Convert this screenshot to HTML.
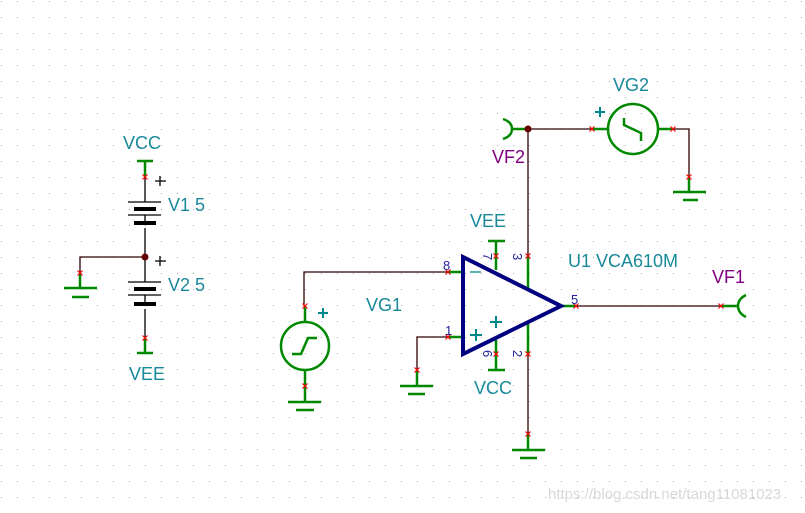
<!DOCTYPE html><html><head><style>body{margin:0;background:#fff}svg{display:block}</style></head><body>
<svg width="805" height="513" viewBox="0 0 805 513" xmlns="http://www.w3.org/2000/svg" font-family="Liberation Sans, sans-serif">
<defs><pattern id="g" x="1" y="1" width="16" height="16" patternUnits="userSpaceOnUse"><rect width="1" height="1" fill="#aaa"/></pattern>
<path id="x" d="M-2.5 -2.5L2.5 2.5M-2.5 2.5L2.5 -2.5" stroke="#f00" stroke-width="1.2" fill="none"/></defs>
<rect width="805" height="513" fill="url(#g)"/>
<g fill="none" stroke-width="1.3">
<path d="M145 177V202M145 215V223M145 228V282M145 295V304M145 309V338" stroke="#000"/>
<path d="M145 257H80V273" stroke="#300"/>
<path d="M128 202H161M128 215H161M128 282H161M128 295H161" stroke="#000"/>
<path d="M145 161V177M137 161H153M145 338V353M137 353H153M80 273V288M64 288H97M72 297H89" stroke="#080" stroke-width="2.5"/>
<path d="M304 306V272H448M448 337H417V370M528 256V129M529 129H592M673 129H689V177M576 306H721M528 354V434" stroke="#300"/>
<g stroke="#080" stroke-width="2.5">
<path d="M305 306V322M305 371V386V402M288 402H321M296 410H314"/>
<path d="M417 370V386M400 386H433M408 394H425"/>
<path d="M448 272H463M448 337H463M496 241V270M488 241H505M496 340V370M488 370H505M528 256V290M528 322V354M561 306H576M721 306H738"/>
<path d="M528 434V450M512 450H545M520 458H537"/>
<path d="M513 129H528M592 129H609M658 129H673M689 177V192M673 192H706M683 200H698"/>
<path d="M746 295Q738 299 738 306Q738 313 746 317"/>
<path d="M503 119Q512 122 512 129Q512 136 503 139"/>
<circle cx="305" cy="346" r="24"/><circle cx="633" cy="129" r="25"/>
<path d="M292 354H301L308 338H317"/><path d="M624 118V125L641 133V141"/>
</g>
<path d="M463 257V354L561 306Z" stroke="#000080" stroke-width="4" stroke-linejoin="miter"/>
<path d="M470 272H481" stroke="#088" stroke-width="1.3"/>
<path d="M470 335H482M476 329V341M490 322H502M496 316V328M595 112H605M600 107V117M318 313H328M323 308V318" stroke="#088" stroke-width="2"/>
<path d="M155 181H166M160 176V186M155 261H166M160 256V266" stroke="#000"/>
</g>
<g fill="#000"><rect x="134" y="207" width="22" height="4"/><rect x="134" y="221" width="22" height="4"/><rect x="134" y="287" width="22" height="4"/><rect x="134" y="302" width="22" height="4"/></g>
<circle cx="145" cy="257" r="3.5" fill="#600"/><circle cx="528" cy="129" r="3.5" fill="#600"/>
<g>
<use href="#x" x="145" y="177"/><use href="#x" x="145" y="338"/><use href="#x" x="80" y="273"/><use href="#x" x="305" y="306"/><use href="#x" x="305" y="386"/><use href="#x" x="417" y="370"/><use href="#x" x="448" y="272"/><use href="#x" x="448" y="337"/><use href="#x" x="496" y="256"/><use href="#x" x="528" y="256"/><use href="#x" x="496" y="354"/><use href="#x" x="528" y="354"/><use href="#x" x="576" y="306"/><use href="#x" x="721" y="306"/><use href="#x" x="528" y="434"/><use href="#x" x="592" y="129"/><use href="#x" x="673" y="129"/><use href="#x" x="689" y="177"/>
</g>
<g fill="#17899a" font-size="18">
<text x="123" y="149">VCC</text><text x="168" y="211">V1 5</text><text x="168" y="291">V2 5</text><text x="129" y="380">VEE</text>
<text x="470" y="227">VEE</text><text x="474" y="394">VCC</text><text x="366" y="311">VG1</text><text x="613" y="91">VG2</text><text x="568" y="267">U1 VCA610M</text>
</g>
<g fill="#800080" font-size="18"><text x="712" y="283">VF1</text><text x="492" y="163">VF2</text></g>
<g fill="#22229a" font-size="13">
<text x="443" y="270">8</text><text x="445" y="335">1</text><text x="571" y="304">5</text>
<text transform="translate(483,253) rotate(90)">7</text><text transform="translate(513,253) rotate(90)">3</text>
<text transform="translate(483,350) rotate(90)">6</text><text transform="translate(513,350) rotate(90)">2</text>
</g>
<text x="548" y="499" fill="#d8d8d8" font-size="15">https://blog.csdn.net/tang11081023</text>
</svg></body></html>
